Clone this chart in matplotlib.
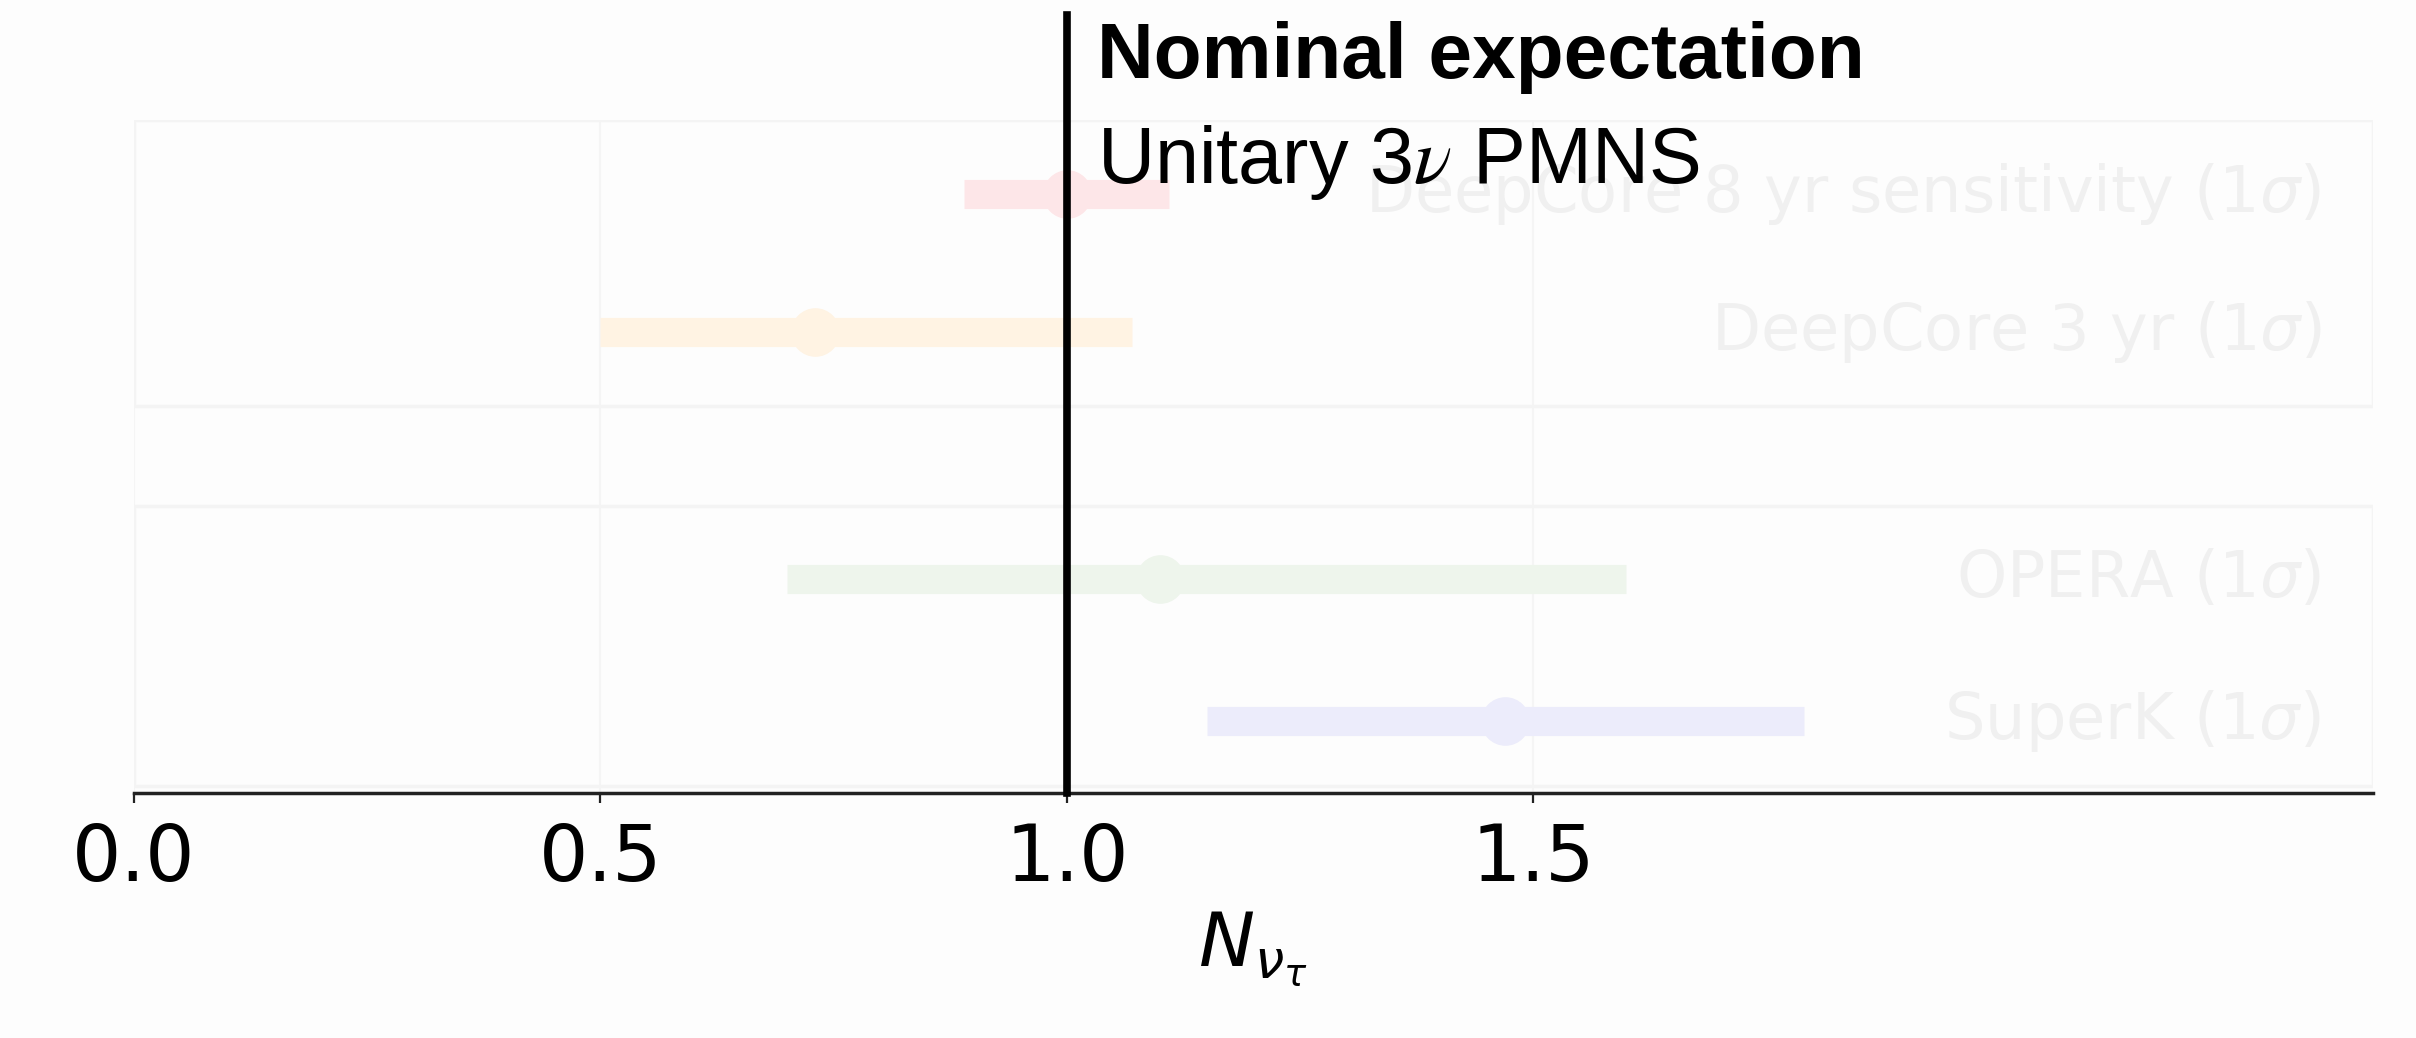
import matplotlib.pyplot as plt
from matplotlib.patches import Rectangle

# Measurements of the tau neutrino normalisation (central value, lower, upper)
labels = ['SuperK ($1\\sigma$)', 'OPERA ($1\\sigma$)',
          'DeepCore 3 yr ($1\\sigma$)', 'DeepCore 8 yr sensitivity ($1\\sigma$)']
centers = [1.47, 1.10, 0.73, 1.00]
lows = [1.15, 0.70, 0.50, 0.89]
highs = [1.79, 1.60, 1.07, 1.11]
colors = ['#ececfb', '#eef5ec', '#fff3e3', '#fde6e8']
rows = [0, 1, 2.74, 3.71]

ticks = [0.0, 0.5, 1.0, 1.5]
nominal = 1.0

fig = plt.figure(figsize=(24.16, 10.38), dpi=100, facecolor='#fdfdfd')
ax = fig.add_axes([0.0555, 0.236, 0.9265, 0.648])
ax.set_facecolor('#fdfdfd')

# faint panel frames around the two groups of experiments
for y0, y1 in [(-0.46, 1.51), (2.22, 4.23)]:
    ax.add_patch(Rectangle((0, y0), 1, y1 - y0, transform=ax.get_yaxis_transform(),
                           fill=False, ec='#f4f4f4', lw=2.5, zorder=1))

for y, c, lo, hi, col, lab in zip(rows, centers, lows, highs, colors, labels):
    ax.plot([lo, hi], [y, y], color=col, lw=21, solid_capstyle='butt', zorder=2)
    ax.plot(c, y, 'o', color=col, ms=34, zorder=3)
    ax.text(2.345, y, lab, ha='right', va='center', fontsize=46,
            color='#f0f0f0', zorder=2)

ax.grid(axis='x', color='#f5f5f5', lw=1.5, zorder=0)
ax.set_axisbelow(True)

# nominal expectation line, running above the frame
ax.plot([nominal, nominal], [0, 1.157], transform=ax.get_xaxis_transform(),
        color='black', lw=5.5, clip_on=False, zorder=5)
fig.text(0.454, 0.925, 'Nominal expectation', fontsize=56.5, fontweight='bold',
         family='Liberation Sans', va='baseline', ha='left')
fig.text(0.454, 0.824, 'Unitary 3$\\nu$ PMNS', fontsize=57,
         family='Liberation Sans', math_fontfamily='stix', va='baseline', ha='left')

ax.set_xlim(0, 2.4)
ax.set_ylim(-0.51, 4.23)
ax.set_xticks(ticks)
ax.set_xticklabels([f'{t:.1f}' for t in ticks])
ax.set_yticks([])
for s in ['left', 'right', 'top']:
    ax.spines[s].set_visible(False)
ax.spines['bottom'].set_color('#222222')
ax.spines['bottom'].set_linewidth(2.5)
ax.tick_params(axis='x', labelsize=56, length=7, width=1.6, pad=13, color='#222222')
ax.set_xlabel('$N_{\\nu_\\tau}$', fontsize=54, labelpad=9)

fig.savefig('out.png', dpi=100, facecolor=fig.get_facecolor())
